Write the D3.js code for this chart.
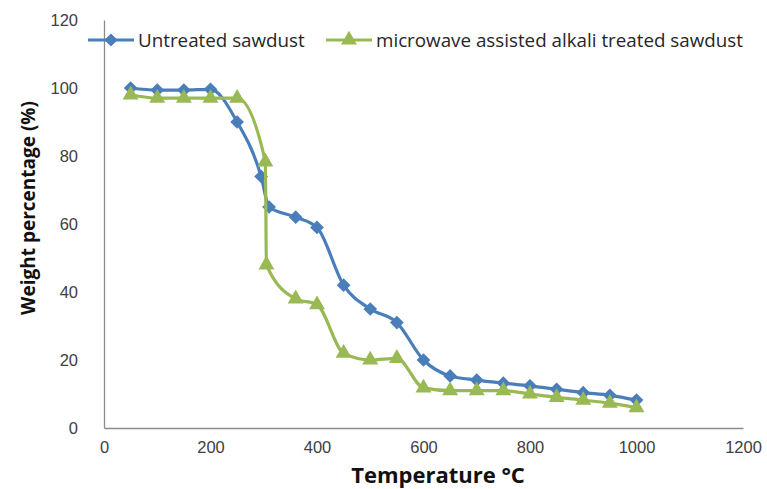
<!DOCTYPE html>
<html>
<head>
<meta charset="utf-8">
<script src="https://cdn.jsdelivr.net/npm/d3@7"></script>
<style>
  body { margin: 0; background: #fff; }
  svg { font-family: "Open Sans", sans-serif; }
  .tick text { fill: #404040; font-size: 16.5px; }
  .axis-title { font-weight: bold; fill: #111; }
  .legend text { font-size: 18.8px; fill: #262626; }
</style>
</head>
<body>
<div id="chart"></div>
<script>
// TGA curves
const untreatedT = [50, 100, 150, 200, 250, 295, 310, 360, 400, 450, 500, 550, 600, 650, 700, 750, 800, 850, 900, 950, 1000];
const untreatedW = [100, 99.4, 99.4, 99.6, 90, 74, 65, 62, 59, 42, 35, 31, 20, 15.3, 14.1, 13.2, 12.4, 11.4, 10.4, 9.6, 8.2];
const treatedT = [50, 100, 150, 200, 250, 303, 305, 360, 400, 450, 500, 550, 600, 650, 700, 750, 800, 850, 900, 950, 1000];
const treatedW = [98, 97, 97, 97, 97, 78.3, 48, 38, 36.3, 22, 20, 20.5, 11.8, 11, 11, 11, 10, 9, 8.2, 7.3, 6];
const xTicks = [0, 200, 400, 600, 800, 1000, 1200];
const yTicks = [0, 20, 40, 60, 80, 100, 120];

const SERIES = [
  { name: "Untreated sawdust", t: untreatedT, w: untreatedW, color: "#4a7ebb", symbol: d3.symbolDiamond2 },
  { name: "microwave assisted alkali treated sawdust", t: treatedT, w: treatedW, color: "#98b954", symbol: d3.symbolTriangle }
];

const W = 767, H = 489;
const M = { left: 104, right: 24, top: 20, bottom: 61 };

const svg = d3.select("#chart").append("svg").attr("width", W).attr("height", H);

const x = d3.scaleLinear().domain([0, 1200]).range([M.left, W - M.right]);
const y = d3.scaleLinear().domain([0, 120]).range([H - M.bottom, M.top]);

// axes
const xAxis = svg.append("g").attr("transform", `translate(0,${y(0)})`)
    .call(d3.axisBottom(x).tickValues(xTicks).tickFormat(d3.format("d")).tickSize(0).tickPadding(10));
const yAxis = svg.append("g").attr("transform", `translate(${x(0)},0)`)
    .call(d3.axisLeft(y).tickValues(yTicks).tickSize(0).tickPadding(26));
[xAxis, yAxis].forEach(a => a.select(".domain").attr("stroke", "#8c8c8c").attr("stroke-width", 1.3));
xAxis.selectAll(".tick text").attr("dy", "0.9em");

svg.append("text").attr("class", "axis-title")
    .attr("x", 438).attr("y", 483).attr("text-anchor", "middle")
    .style("font-size", "22px")
    .text("Temperature °C");
svg.append("text").attr("class", "axis-title")
    .attr("transform", `translate(35,${208}) rotate(-90)`).attr("text-anchor", "middle")
    .style("font-size", "19px")
    .text("Weight percentage (%)");

// lines + markers (smoothed like the spreadsheet original)
const line = d3.line().curve(d3.curveMonotoneX)
    .x(d => x(d[0])).y(d => y(d[1]));

SERIES.forEach(s => {
  const pts = s.t.map((t, i) => [t, s.w[i]]);
  svg.append("path").datum(pts)
      .attr("fill", "none").attr("stroke", s.color).attr("stroke-width", 3.2)
      .attr("d", line);
  svg.append("g").selectAll("path").data(pts).join("path")
      .attr("transform", d => `translate(${x(d[0])},${y(d[1])})`)
      .attr("d", d3.symbol().type(s.symbol).size(s.symbol === d3.symbolTriangle ? 110 : 120))
      .attr("fill", s.color);
});

// legend
const legend = svg.append("g").attr("class", "legend");
const legendX = [88, 326];
SERIES.forEach((s, i) => {
  const g = legend.append("g").attr("transform", `translate(${legendX[i]},40)`);
  g.append("line").attr("x1", 0).attr("x2", 46).attr("stroke", s.color).attr("stroke-width", 3.2);
  g.append("path").attr("transform", "translate(23,0)")
      .attr("d", d3.symbol().type(s.symbol).size(110)).attr("fill", s.color);
  g.append("text").attr("x", 50).attr("dy", "0.35em").text(s.name);
});
</script>
</body>
</html>
